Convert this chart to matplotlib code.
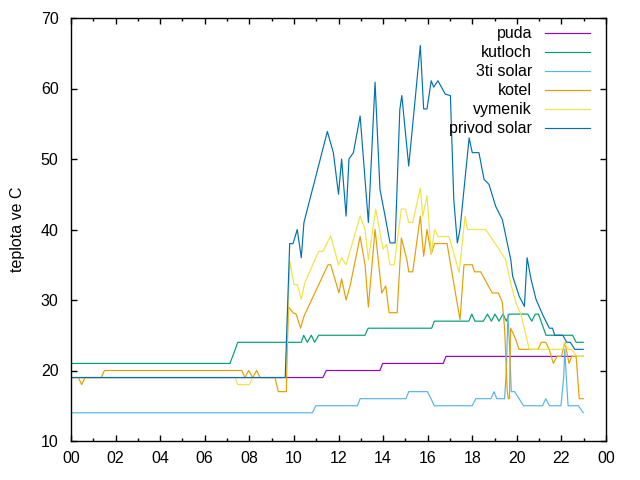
import matplotlib
matplotlib.use('Agg')
import matplotlib.pyplot as plt
from matplotlib.ticker import MultipleLocator, FixedLocator

plt.rcParams['font.family'] = ['Liberation Sans', 'DejaVu Sans']
plt.rcParams['font.size'] = 11.5

# time in hours, temperature in C
puda_t = [0, 11.3, 11.45, 13.86, 13.98, 16.7, 16.82, 22.98]
puda_v = [19, 19, 20, 20, 21, 21, 22, 22]

kutloch_t = [0, 7.13, 7.25, 7.37, 7.48, 10.33, 10.44, 10.6, 10.78, 10.93, 11.11, 13.19, 13.33,
             16.18, 16.3, 17.85, 17.98, 18.12, 18.5, 18.68, 18.86, 19.02, 19.2, 19.38, 19.53,
             19.65, 20.49, 20.67, 20.83, 20.97, 21.31, 22.5, 22.66, 22.98]
kutloch_v = [21, 21, 22, 23, 24, 24, 25, 24, 25, 24, 25, 25, 26,
             26, 27, 27, 28, 27, 27, 28, 27, 28, 27, 28, 27,
             28, 28, 27, 28, 28, 25, 25, 24, 24]

solar3_t = [0, 10.83, 10.98, 12.85, 12.97, 15.03, 15.15, 15.99, 16.15, 16.3, 18.0, 18.16,
            18.84, 18.98, 19.1, 19.45, 19.53, 19.6, 19.68, 19.75, 19.9, 20.3, 21.15, 21.3,
            21.46, 21.98, 22.1, 22.15, 22.22, 22.3, 22.76, 22.98]
solar3_v = [14, 14, 15, 15, 16, 16, 17, 17, 16, 15, 15, 16,
            16, 17, 16, 16, 20, 28, 23, 17, 17, 15, 15, 16,
            15, 15, 19, 23, 19, 15, 15, 14]

kotel_t = [0, 0.33, 0.48, 0.63, 1.35, 1.5, 7.66, 7.8, 7.97, 8.15, 8.33, 8.48, 9.15, 9.3,
           9.66, 9.7, 9.76, 9.96, 10.1, 10.3, 10.45, 11.53, 11.65, 12.02, 12.14, 12.34,
           12.52, 12.97, 13.19, 13.34, 13.64, 13.94, 14.12, 14.27, 14.63, 14.82, 15.07,
           15.15, 15.33, 15.67, 15.82, 15.97, 16.16, 16.31, 16.87, 17.17, 17.45, 17.63,
           18.0, 18.1, 18.38, 18.55, 18.72, 18.9, 19.17, 19.35, 19.45, 19.57, 19.62,
           19.67, 19.72, 19.8, 19.95, 20.1, 20.95, 21.1, 21.3, 21.45, 21.64, 21.8, 22.0,
           22.16, 22.34, 22.46, 22.66, 22.8, 22.98]
kotel_v = [19, 19, 18, 19, 19, 20, 20, 19, 20, 19, 20, 19, 19, 17,
           17, 23, 29, 28.2, 28, 26, 27.7, 35, 35, 31, 33, 30,
           32, 39, 35, 29, 40, 31, 32, 28.2, 28.2, 38.8, 35.7,
           34, 34, 41.9, 36.2, 40, 36.5, 38, 38, 32.4, 27.2, 35,
           35, 34, 34, 33, 32, 31, 31, 29.7, 26, 17, 16,
           16, 26, 25.5, 24.4, 23, 23, 24, 24, 23, 21, 22, 22,
           24, 21, 22, 22, 16, 16]

vymenik_t = [0, 7.36, 7.48, 8.0, 8.15, 9.62, 9.82, 10.0, 10.15, 10.33, 10.48, 11.11, 11.3,
             11.65, 12.0, 12.14, 12.34, 12.97, 13.19, 13.34, 13.67, 14.0, 14.16, 14.31, 14.5,
             14.82, 15.0, 15.15, 15.33, 15.67, 15.78, 15.97, 16.16, 16.31, 16.47, 16.95,
             17.17, 17.41, 17.68, 17.78, 18.6, 19.2, 19.5, 19.72, 19.96, 20.19, 20.56,
             22.06, 22.13, 22.3, 22.45, 22.7, 22.98]
vymenik_v = [19, 19, 18, 18, 19, 19, 35.5, 32.2, 32.2, 30.1, 32.4, 36.9, 36.9,
             39.1, 35, 36, 35, 41.9, 40, 35.7, 42.9, 37.2, 37.9, 35, 35,
             42.9, 42.9, 41, 41, 45.9, 41.9, 44.8, 36.5, 40, 39, 39,
             36.7, 33.9, 41.9, 40, 40, 37.2, 35.7, 32.4, 29.6, 27.9, 23,
             23, 24, 23, 23, 22, 22]

privod_t = [0, 9.61, 9.81, 9.96, 10.15, 10.33, 10.45, 11.5, 11.77, 12.0, 12.14, 12.34,
            12.47, 12.67, 12.97, 13.34, 13.64, 13.86, 14.09, 14.31, 14.54, 14.75, 14.84,
            15.15, 15.67, 15.82, 15.97, 16.16, 16.27, 16.46, 16.79, 17.02, 17.17, 17.33,
            17.45, 17.86, 18.0, 18.3, 18.53, 18.75, 19.05, 19.35, 19.73, 19.81, 20.11,
            20.34, 20.46, 20.64, 20.86, 21.16, 21.46, 21.6, 21.7, 22.06, 22.24, 22.4,
            22.6, 22.98]
privod_v = [19, 19, 38, 38, 40, 36, 41, 53.9, 50.9, 45, 50, 41.9,
            50, 50.9, 56.1, 41, 60.9, 45.7, 41.9, 38.1, 38.1, 57, 59,
            49, 66.1, 57.1, 57.1, 61.1, 60.2, 61.1, 59.2, 59, 44.3, 38.1,
            40, 53, 50.9, 50.9, 47.1, 46.4, 43.3, 41.4, 35.7, 33.4, 30.5,
            29.1, 36, 32.9, 30.1, 27.9, 26, 26, 25, 25, 24, 24,
            23, 23]

names = ['puda', 'kutloch', '3ti solar', 'kotel', 'vymenik', 'privod solar']
colors = ['#9400d3', '#009e73', '#56b4e9', '#e69f00', '#f0e442', '#0072b2']
series = [(puda_t, puda_v), (kutloch_t, kutloch_v), (solar3_t, solar3_v),
          (kotel_t, kotel_v), (vymenik_t, vymenik_v), (privod_t, privod_v)]

xtick_labels = ['00', '02', '04', '06', '08', '10', '12', '14', '16', '18', '20', '22', '00']

fig = plt.figure(figsize=(6.4, 4.8), dpi=100)
ax = fig.add_axes([71/640, 39/480, 535/640, 423/480])

for (t, v), c in zip(series, colors):
    ax.plot(t, v, color=c, lw=0.85)

ax.set_xlim(0, 24)
ax.set_ylim(10, 70)
ax.xaxis.set_major_locator(FixedLocator(range(0, 25, 2)))
ax.set_xticklabels(xtick_labels)
ax.xaxis.set_minor_locator(MultipleLocator(1))
ax.yaxis.set_major_locator(MultipleLocator(10))
ax.tick_params(which='both', direction='in', top=True, right=True, width=1)
ax.tick_params(which='major', length=4.5)
ax.tick_params(which='minor', length=2.2)
ax.tick_params(axis='x', pad=7)
ax.tick_params(axis='y', pad=9)
for s in ax.spines.values():
    s.set_linewidth(1)
ax.set_ylabel('teplota ve C', labelpad=11)

# gnuplot-like key: text right aligned, sample line on the right
for i, (name, c) in enumerate(zip(names, colors)):
    y = 0.964 - i * 0.0449
    ax.text(0.862, y, name, transform=ax.transAxes, ha='right', va='center')
    ax.plot([0.886, 0.970], [y, y], transform=ax.transAxes, color=c, lw=0.85)

fig.savefig('out.png', dpi=100)
